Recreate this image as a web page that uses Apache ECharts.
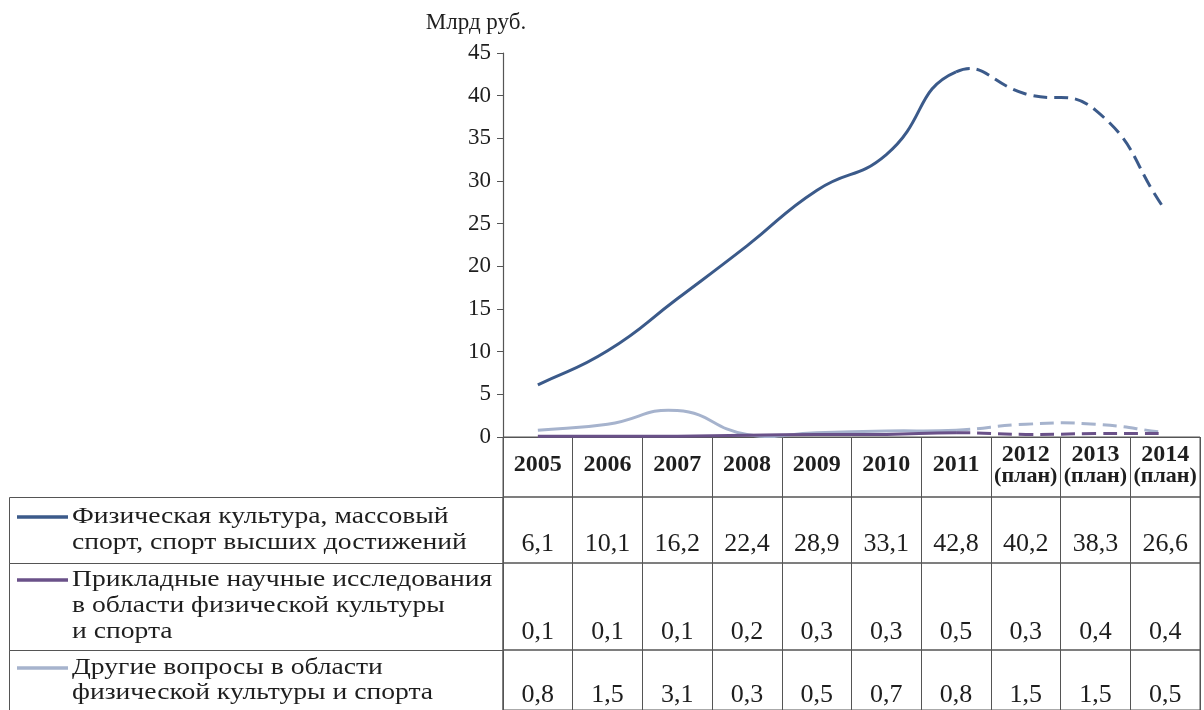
<!DOCTYPE html>
<html>
<head>
<meta charset="utf-8">
<script src="https://cdn.jsdelivr.net/npm/echarts@6/dist/echarts.min.js"></script>
<style>
  html, body { margin: 0; padding: 0; background: #fff; }
  #chart { width: 1204px; height: 710px; }
</style>
</head>
<body>
<div id="chart"></div>
<script>
// ---- data ----
const categories = ['2005', '2006', '2007', '2008', '2009', '2010', '2011', '2012', '2013', '2014'];
const planStartIndex = 7;            // 2012..2014 are plan values
const planNote = '(план)';
const sportValues = [6.1, 10.1, 16.2, 22.4, 28.9, 33.1, 42.8, 40.2, 38.3, 26.6];
const scienceValues = [0.1, 0.1, 0.1, 0.2, 0.3, 0.3, 0.5, 0.3, 0.4, 0.4];
const otherValues = [0.8, 1.5, 3.1, 0.3, 0.5, 0.7, 0.8, 1.5, 1.5, 0.5];
const yMin = 0, yMax = 45, yStep = 5;
const unitLabel = 'Млрд руб.';
const sportName = ['Физическая культура, массовый', 'спорт, спорт высших достижений'];
const scienceName = ['Прикладные научные исследования', 'в области физической культуры', 'и спорта'];
const otherName = ['Другие вопросы в области', 'физической культуры и спорта'];

// ---- styling ----
const serif = '"Liberation Serif", "Times New Roman", serif';
const ink = '#1e1e1e';
const rule = '#555';
const colors = { sport: '#3b5a8a', science: '#6a5189', other: '#a6b3cd' };

const rows = [
  { lines: sportName, values: sportValues, color: colors.sport, top: 497, height: 66, margin: 19, lineY: [517, 543] },
  { lines: scienceName, values: scienceValues, color: colors.science, top: 563, height: 87, margin: 18, lineY: [580, 606, 632] },
  { lines: otherName, values: otherValues, color: colors.other, top: 650, height: 60, margin: 15, lineY: [668, 693] }
];

const fmt = v => v.toFixed(1).replace('.', ',');
const plotLeft = 503, plotRight = 4;

const grids = [
  { left: plotLeft, right: plotRight, top: 53, height: 384, show: false },
  { left: plotLeft, right: plotRight, top: 437, height: 60, show: true, borderColor: rule, borderWidth: 1, backgroundColor: 'transparent' }
];
rows.forEach(r => grids.push({ left: plotLeft, right: plotRight, top: r.top, height: r.height, show: true, borderColor: rule, borderWidth: 1, backgroundColor: 'transparent' }));

const xAxes = [
  {
    gridIndex: 0, type: 'category', data: categories, boundaryGap: true,
    axisLine: { show: true, lineStyle: { color: rule, width: 1.2 } },
    axisTick: { show: false }, axisLabel: { show: false }, splitLine: { show: false }
  },
  {
    gridIndex: 1, type: 'category', data: categories, boundaryGap: true,
    axisLine: { show: false }, axisTick: { show: false },
    splitLine: { show: true, interval: 0, lineStyle: { color: rule, width: 1 } },
    axisLabel: {
      show: true, inside: true, interval: 0, margin: 32, verticalAlign: 'middle', align: 'center',
      formatter: (val, idx) => idx >= planStartIndex ? '{y|' + val + '}\n{p|' + planNote + '}' : '{y|' + val + '}',
      rich: {
        y: { fontFamily: serif, fontWeight: 'bold', fontSize: 24, color: ink, lineHeight: 22, align: 'center' },
        p: { fontFamily: serif, fontWeight: 'bold', fontSize: 22, color: ink, lineHeight: 20, align: 'center' }
      }
    }
  }
];
rows.forEach((r, k) => xAxes.push({
  gridIndex: k + 2, type: 'category', data: categories, boundaryGap: true,
  axisLine: { show: false }, axisTick: { show: false },
  splitLine: { show: true, interval: 0, lineStyle: { color: rule, width: 1 } },
  axisLabel: {
    show: true, inside: true, interval: 0, margin: r.margin, verticalAlign: 'middle', align: 'center',
    fontFamily: serif, fontSize: 26, color: ink,
    formatter: (val, idx) => fmt(r.values[idx])
  }
}));

const yAxes = [
  {
    gridIndex: 0, type: 'value', min: yMin, max: yMax, interval: yStep,
    name: unitLabel, nameLocation: 'end', nameGap: 19,
    nameTextStyle: { fontFamily: serif, fontSize: 23, color: ink, align: 'center', padding: [0, 54, 0, 0] },
    axisLine: { show: true, lineStyle: { color: rule, width: 1.2 } },
    axisTick: { show: true, length: 6, lineStyle: { color: rule } },
    axisLabel: { fontFamily: serif, fontSize: 23, color: ink, margin: 12 },
    splitLine: { show: false }
  },
  { gridIndex: 1, type: 'value', show: false }
];
rows.forEach((r, k) => yAxes.push({ gridIndex: k + 2, type: 'value', show: false }));

// Smooth line drawn as one curve: solid for actual years, dashed for plan years.
const SMOOTH = 0.5;
function curvePaths(pts) {
  const n = pts.length;
  const cpOut = [], cpIn = [];
  for (let i = 0; i < n; i++) {
    const p = pts[i], prev = pts[Math.max(0, i - 1)], next = pts[Math.min(n - 1, i + 1)];
    const vx = next[0] - prev[0], vy = next[1] - prev[1];
    const lp = Math.hypot(p[0] - prev[0], p[1] - prev[1]);
    const ln = Math.hypot(next[0] - p[0], next[1] - p[1]);
    const r = (lp + ln) > 0 ? ln / (lp + ln) : 0.5;
    cpOut[i] = [p[0] + vx * SMOOTH * r, p[1] + vy * SMOOTH * r];
    cpIn[i] = [p[0] - vx * SMOOTH * (1 - r), p[1] - vy * SMOOTH * (1 - r)];
  }
  const build = (from, to) => {
    let d = 'M' + pts[from][0] + ' ' + pts[from][1];
    for (let k = from; k < to; k++) {
      d += ' C' + cpOut[k][0] + ' ' + cpOut[k][1] + ' ' + cpIn[k + 1][0] + ' ' + cpIn[k + 1][1] + ' ' + pts[k + 1][0] + ' ' + pts[k + 1][1];
    }
    return d;
  };
  return { solid: build(0, planStartIndex - 1), dashed: build(planStartIndex - 1, n - 1) };
}

function curveSeries(name, values, color) {
  return {
    name: name, type: 'custom', coordinateSystem: 'cartesian2d', xAxisIndex: 0, yAxisIndex: 0,
    data: values.map((v, i) => [i, v]), clip: false, silent: true, z: 3,
    renderItem: function (params, api) {
      if (params.dataIndex !== 0) return null;
      const pts = values.map((v, i) => api.coord([i, v]));
      const paths = curvePaths(pts);
      return {
        type: 'group',
        children: [
          { type: 'path', shape: { pathData: paths.solid }, style: { fill: 'none', stroke: color, lineWidth: 3 } },
          { type: 'path', shape: { pathData: paths.dashed }, style: { fill: 'none', stroke: color, lineWidth: 3, lineDash: [14, 7] } }
        ]
      };
    }
  };
}

const series = [
  curveSeries(otherName.join(' '), otherValues, colors.other),
  curveSeries(scienceName.join(' '), scienceValues, colors.science),
  curveSeries(sportName.join(' '), sportValues, colors.sport)
];

// left column of the table: legend keys and row titles
const graphic = [];
rows.forEach(r => {
  graphic.push({
    type: 'rect', silent: true,
    shape: { x: 9.5, y: r.top + 0.5, width: plotLeft - 9.5, height: r.height + (r === rows[2] ? 20 : 0) },
    style: { fill: 'none', stroke: rule, lineWidth: 1 }
  });
  graphic.push({
    type: 'line', silent: true,
    shape: { x1: 17, y1: r.lineY[0], x2: 68, y2: r.lineY[0] },
    style: { stroke: r.color, lineWidth: 3.5 }
  });
  r.lines.forEach((t, j) => graphic.push({
    type: 'text', silent: true, x: 72, y: r.lineY[j], scaleX: 1.15, scaleY: 1,
    style: { text: t, font: '24px ' + serif, fill: ink, verticalAlign: 'middle', align: 'left' }
  }));
});

const chart = echarts.init(document.getElementById('chart'), null, { renderer: 'canvas' });
chart.setOption({
  backgroundColor: '#fff',
  animation: false,
  grid: grids,
  xAxis: xAxes,
  yAxis: yAxes,
  series: series,
  graphic: graphic
});
</script>
</body>
</html>
